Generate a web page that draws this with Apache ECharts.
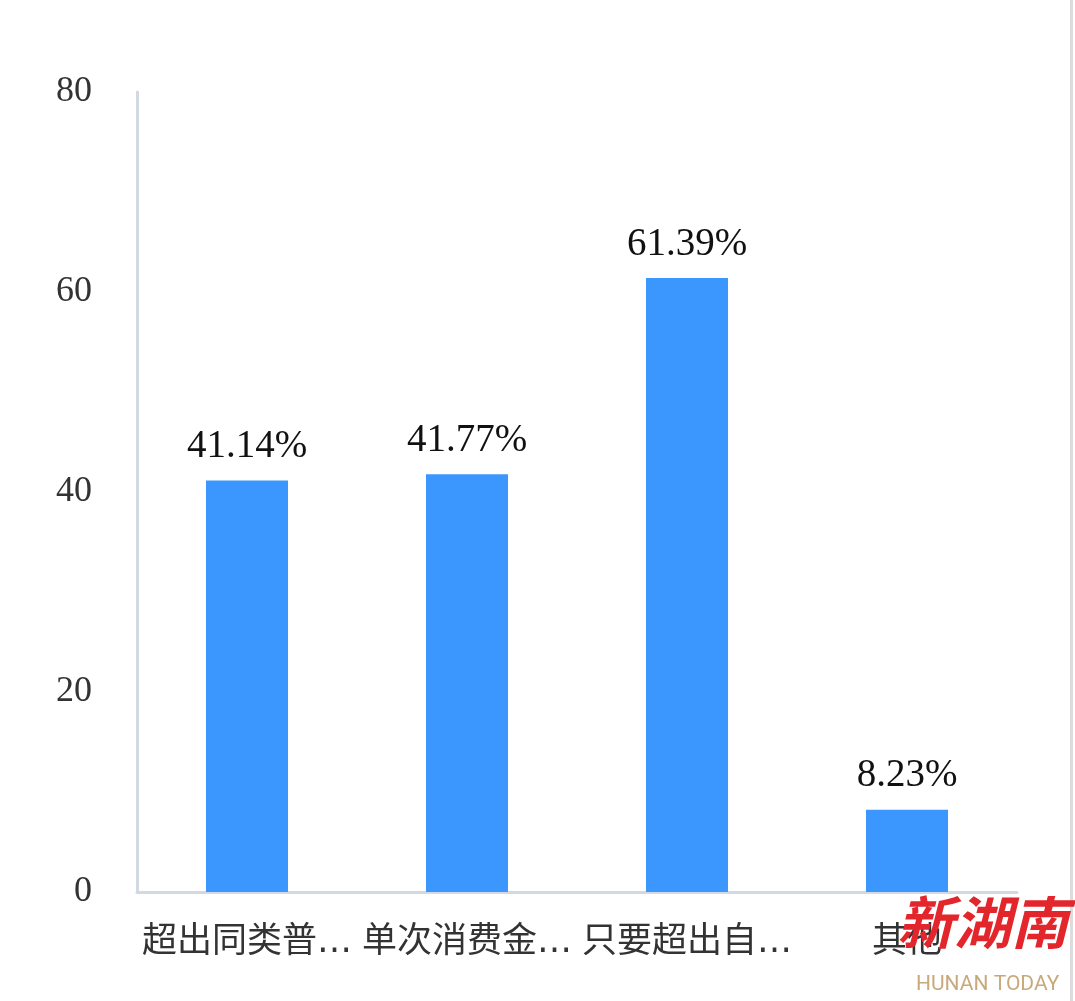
<!DOCTYPE html>
<html>
<head>
<meta charset="utf-8">
<script src="https://cdn.jsdelivr.net/npm/echarts@6/dist/echarts.min.js"></script>
<style>
html,body{margin:0;padding:0;background:#fff;}
#chart{width:1075px;height:1001px;}
</style>
</head>
<body>
<div id="chart"></div>
<script>
var categories = ['超出同类普…', '单次消费金…', '只要超出自…', '其他'];
var values = [41.14, 41.77, 61.39, 8.23];
var yTicks = [0, 20, 40, 60, 80];

var chart = echarts.init(document.getElementById('chart'));
chart.setOption({
  animation: false,
  backgroundColor: '#ffffff',
  grid: { left: 137, right: 58, top: 92, bottom: 109 },
  xAxis: {
    type: 'category',
    data: categories,
    axisLine: { show: true, lineStyle: { color: '#d2d9e2', width: 3 } },
    axisTick: { show: false },
    axisLabel: {
      fontFamily: '"DejaVu Sans", "Noto Sans CJK SC"',
      fontSize: 35,
      color: '#333333',
      margin: 33,
      interval: 0
    }
  },
  yAxis: {
    type: 'value',
    min: yTicks[0],
    max: yTicks[yTicks.length - 1],
    interval: 20,
    axisLine: { show: true, lineStyle: { color: '#d2d9e2', width: 3 } },
    axisTick: { show: false },
    splitLine: { show: false },
    axisLabel: {
      fontFamily: 'Liberation Serif',
      fontSize: 36,
      color: '#333333',
      margin: 45
    }
  },
  series: [{
    type: 'bar',
    data: values,
    barWidth: 82,
    itemStyle: { color: '#3b97fd' },
    label: {
      show: true,
      position: 'top',
      distance: 14,
      formatter: function (p) { return p.value.toFixed(2) + '%'; },
      fontFamily: 'Liberation Serif',
      fontSize: 39,
      color: '#111111'
    }
  }],
  graphic: [
    { type: 'rect', shape: { x: 1070, y: 0, width: 3, height: 1001 }, style: { fill: '#dcdcdc' }, silent: true },
    { type: 'text', left: 897, top: 894, style: { text: '新湖南', font: 'italic bold 57px "Noto Sans CJK SC"', fill: '#e3262b' }, z: 100 },
    { type: 'text', left: 916, top: 974, style: { text: 'HUNAN TODAY', font: '21px Roboto', fill: '#c8a97c' }, z: 100 }
  ]
});
</script>
</body>
</html>
